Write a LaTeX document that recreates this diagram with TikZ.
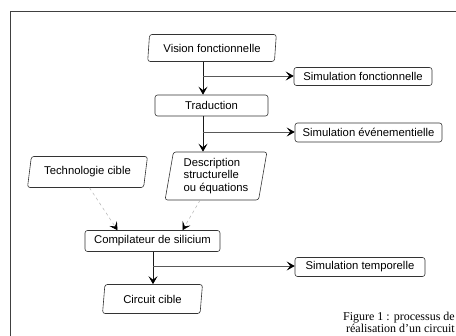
\documentclass[tikz,border=0pt]{standalone}
\usepackage{fontspec}
\setmainfont{Liberation Serif}
\setsansfont{Liberation Sans}
\usetikzlibrary{arrows.meta,shapes.geometric,positioning}

\begin{document}
\begin{tikzpicture}[x=1pt,y=-1pt,>={Stealth[length=8pt,width=9pt,inset=3.5pt,color=black]},
every node/.style={font=\sffamily\fontsize{11.3}{12.8}\selectfont},
box/.style={draw=black!80,line width=0.6pt,rounded corners=2.5pt,inner sep=0pt},
slantbox/.style={box,trapezium,trapezium left angle=80,trapezium right angle=100,trapezium stretches=true},
flow/.style={->,draw=black!90,line width=0.8pt},
branch/.style={->,draw=black!65,line width=0.6pt},
faint/.style={->,draw=black!30,dashed,line width=0.5pt}]
\useasboundingbox (0,0) rectangle (456,336);
% cadre de la page
\draw[black!75,line width=1pt] (10,336) -- (10,12) -- (456,12);

\node (vision) at (212,48) [slantbox, minimum width=130, minimum height=27] {Vision fonctionnelle};
\node (simfonct) at (363,76.5) [box, minimum width=138, minimum height=18] {Simulation fonctionnelle};
\node (trad) at (211.5,105.5) [box, minimum width=113, minimum height=21] {Traduction};
\node (simevt) at (368.5,132.5) [box, minimum width=147, minimum height=19] {Simulation événementielle};
\node (descr) at (216,176) [slantbox, minimum width=102, minimum height=48, align=left] {Description\\structurelle\\ou équations};
\node (techno) at (87.5,172) [slantbox, trapezium left angle=74, trapezium right angle=106, minimum width=121, minimum height=31] {Technologie cible};
\node (compil) at (152.5,241) [box, minimum width=135, minimum height=21] {Compilateur de silicium};
\node (simtemp) at (360,267) [box, minimum width=130, minimum height=19] {Simulation temporelle};
\node (circuit) at (152.5,299) [slantbox, minimum width=100, minimum height=29] {Circuit cible};
\node (caption) at (455,322) [anchor=east, align=right, inner sep=0pt, font=\rmfamily\fontsize{12}{12}\selectfont] {Figure 1 : processus de\\réalisation d'un circuit};

\coordinate (b1) at (203,76);
\coordinate (b2) at (203,132);
\coordinate (b3) at (153,266);
\draw[flow] (vision.south -| b1) -- (trad.north -| b1);
\draw[branch] (b1) -- (simfonct.west |- b1);
\draw[flow] (trad.south -| b2) -- (descr.north -| b2);
\draw[branch] (b2) -- (simevt.west |- b2);
\draw[faint] ([xshift=2pt]techno.south) -- ([xshift=-35pt]compil.north);
\draw[faint] ([xshift=-16pt]descr.south) -- ([xshift=30pt]compil.north);
\draw[flow] (compil.south -| b3) -- (circuit.north -| b3);
\draw[branch] (b3) -- (simtemp.west |- b3);
\end{tikzpicture}
\end{document}
